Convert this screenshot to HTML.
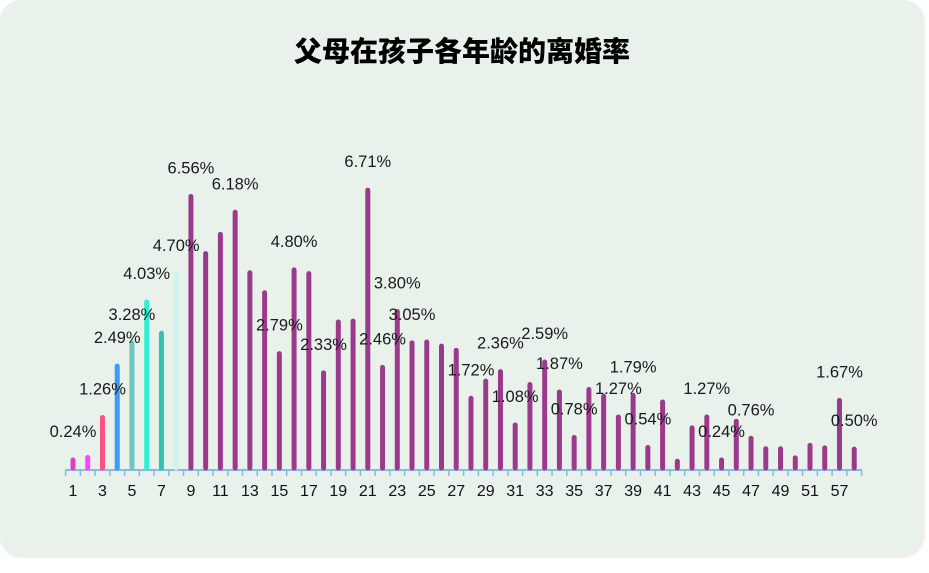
<!DOCTYPE html>
<html><head><meta charset="utf-8"><style>
html,body{margin:0;padding:0;background:#fff;width:929px;height:573px;overflow:hidden}
#card{position:absolute;left:0;top:0;width:924px;height:556px;background:#e8f2ea;border-radius:22px;box-shadow:0 1px 3px rgba(0,0,0,0.12)}
#title{position:absolute;left:0;width:924px;top:30px;text-align:center;font:900 28px "Liberation Sans","Noto Sans CJK SC",sans-serif;color:#000}
svg{position:absolute;left:0;top:0}
text{font-family:"Liberation Sans","Noto Sans CJK SC",sans-serif}
</style></head><body>
<div id="card">
<div id="title">父母在孩子各年龄的离婚率</div>
</div>
<svg id="chart" width="929" height="573"></svg>
<script>
const categories = ["1","2","3","4","5","6","7","8","9","10","11","12","13","14","15","16","17","18","19","20","21","22","23","24","25","26","27","28","29","30","31","32","33","34","35","36","37","38","39","40","41","42","43","44","45","46","47","48","49","50","51","52","57","58"];
const values = [0.24,0.30,1.26,2.49,3.05,4.03,3.28,4.70,6.56,5.19,5.65,6.18,4.73,4.25,2.79,4.80,4.71,2.33,3.55,3.57,6.71,2.46,3.80,3.05,3.07,2.97,2.87,1.72,2.13,2.36,1.08,2.05,2.59,1.87,0.78,1.93,1.77,1.27,1.79,0.54,1.63,0.21,1.01,1.27,0.24,1.17,0.76,0.51,0.51,0.29,0.59,0.53,1.67,0.50];
const labels = ["0.24%","","1.26%","2.49%","3.28%","4.03%","","4.70%","6.56%","","","6.18%","","","2.79%","4.80%","","2.33%","","","6.71%","2.46%","3.80%","3.05%","","","","1.72%","","2.36%","1.08%","","2.59%","1.87%","0.78%","","","1.27%","1.79%","0.54%","","","","1.27%","0.24%","","0.76%","","","","","","1.67%","0.50%"];
const colors = ["#e040c8","#ff44ff","#ff4d8a","#3a9cf0","#6ec8c2","#30f0d2","#2fc4b2","#d2f2ee"];
const NS="http://www.w3.org/2000/svg";
const svg=document.getElementById('chart');
const baseY=468, perPct=41.7, x0=73, step=(810-73)/50;
function xScale(i){return x0+i*step;}
function yScale(v){return baseY-v*perPct;}
const axis=document.createElementNS(NS,'line');


axis.setAttribute('x1',xScale(0)-step/2);axis.setAttribute('x2',xScale(categories.length-1)+step/2);
axis.setAttribute('y1',470);axis.setAttribute('y2',470);axis.setAttribute('stroke','#8ab8e2');axis.setAttribute('stroke-width','2');
svg.appendChild(axis);
for(let i=0;i<=categories.length;i++){
  const t=document.createElementNS(NS,'line');
  
  
  const x=xScale(i)-step/2;
  t.setAttribute('x1',x);t.setAttribute('x2',x);t.setAttribute('y1',470);t.setAttribute('y2',476);
  t.setAttribute('stroke','#8ab8e2');t.setAttribute('stroke-width','1.5');
  svg.appendChild(t);
}
categories.forEach((c,i)=>{
  if(i%2===0){
    const tx=document.createElementNS(NS,'text');
    
    
    tx.setAttribute('x',xScale(i));tx.setAttribute('y',496);tx.setAttribute('text-anchor','middle');
    tx.setAttribute('font-size','16');tx.setAttribute('fill','#111');tx.textContent=c;
    svg.appendChild(tx);
  }
  const b=document.createElementNS(NS,'line');
  
  
  b.setAttribute('x1',xScale(i));b.setAttribute('x2',xScale(i));
  b.setAttribute('y1',baseY);b.setAttribute('y2',yScale(values[i])+2);
  b.setAttribute('stroke',i<colors.length?colors[i]:'#9b3a8c');
  b.setAttribute('stroke-width','5');b.setAttribute('stroke-linecap','round');
  svg.appendChild(b);
});
labels.forEach((l,i)=>{
  if(!l)return;
  const tx=document.createElementNS(NS,'text');
  
  
  tx.setAttribute('x',xScale(i));tx.setAttribute('y',yScale(values[i])-21);
  tx.setAttribute('text-anchor','middle');tx.setAttribute('font-size','16.5');tx.setAttribute('fill','#1a1a1a');
  tx.textContent=l;svg.appendChild(tx);
});
</script>
</body></html>
